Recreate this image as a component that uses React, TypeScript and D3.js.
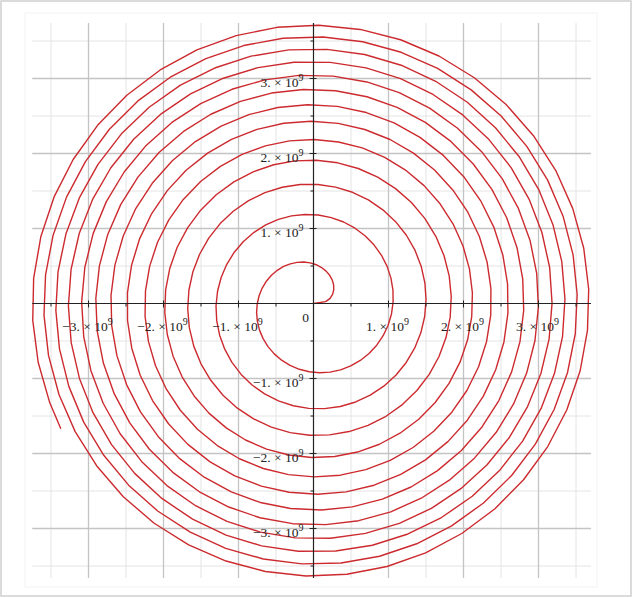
import React from "react";
import * as d3 from "d3";

// Spiral (Fermat spiral r = c * sqrt(theta)), parameters
const spiralCoefficient = 0.423e9; // c
const thetaMax = 79.0; // end angle (rad), ~12.5 turns
const thetaStep = 0.15; // sampling step of the plotted polyline

// Axis ticks (in units of 1e9)
const majorTicks = [-3, -2, -1, 1, 2, 3];
const minorTicks = [-3.5, -2.5, -1.5, -0.5, 0.5, 1.5, 2.5, 3.5];
const xTickLabels = ["\u22123.", "\u22122.", "\u22121.", "1.", "2.", "3."];
const yTickLabels = ["\u22123.", "\u22122.", "\u22121.", "1.", "2.", "3."];

const W = 633;
const H = 598;

export default function App() {
  const x = d3.scaleLinear().domain([-3.75e9, 3.7e9]).range([32.25, 591]);
  const y = d3.scaleLinear().domain([-3.66e9, 3.74e9]).range([578, 23]);

  const thetas = d3.range(0, thetaMax, thetaStep).concat([thetaMax]);
  const pts: [number, number][] = thetas.map((t) => {
    const r = spiralCoefficient * Math.sqrt(t);
    return [r * Math.cos(t), r * Math.sin(t)];
  });
  const line = d3
    .line<[number, number]>()
    .x((d) => x(d[0]))
    .y((d) => y(d[1]));

  const x0 = x(0);
  const y0 = y(0);
  const [xl, xr] = x.range();
  const [yb, yt] = y.range();
  const font = "'Liberation Serif', 'Times New Roman', serif";

  return (
    <svg
      width={W}
      height={H}
      style={{ position: "absolute", left: 0, top: 0, background: "#fff" }}
    >
      <rect x={1} y={1} width={630} height={595} fill="#fff" stroke="#cfcfcf" strokeWidth={1.5} />
      <rect x={25} y={13} width={572} height={574} fill="none" stroke="#f3f3f3" strokeWidth={1} />
      {/* minor grid */}
      {minorTicks.map((v) => (
        <g key={"mg" + v}>
          <line x1={x(v * 1e9)} x2={x(v * 1e9)} y1={yt} y2={yb} stroke="#e4e4e4" strokeWidth={1} />
          <line x1={xl} x2={xr} y1={y(v * 1e9)} y2={y(v * 1e9)} stroke="#e4e4e4" strokeWidth={1} />
        </g>
      ))}
      {/* major grid */}
      {majorTicks.map((v) => (
        <g key={"Mg" + v}>
          <line x1={x(v * 1e9)} x2={x(v * 1e9)} y1={yt} y2={yb} stroke="#c4c4c4" strokeWidth={1.3} />
          <line x1={xl} x2={xr} y1={y(v * 1e9)} y2={y(v * 1e9)} stroke="#c4c4c4" strokeWidth={1.3} />
        </g>
      ))}
      {/* spiral */}
      <path d={line(pts) || ""} fill="none" stroke="#cc2a2e" strokeWidth={1.4} strokeLinejoin="round" />
      {/* axes */}
      <line x1={xl} x2={xr} y1={y0} y2={y0} stroke="#222" strokeWidth={1.2} />
      <line x1={x0} x2={x0} y1={yt} y2={yb} stroke="#222" strokeWidth={1.2} />
      {majorTicks.map((v) => (
        <g key={"t" + v}>
          <line x1={x(v * 1e9)} x2={x(v * 1e9)} y1={y0 - 3} y2={y0 + 4} stroke="#222" strokeWidth={1} />
          <line x1={x0 - 4} x2={x0 + 3} y1={y(v * 1e9)} y2={y(v * 1e9)} stroke="#222" strokeWidth={1} />
        </g>
      ))}
      {minorTicks.map((v) => (
        <g key={"mt" + v}>
          <line x1={x(v * 1e9)} x2={x(v * 1e9)} y1={y0} y2={y0 + 3} stroke="#222" strokeWidth={1} />
          <line x1={x0 - 3} x2={x0} y1={y(v * 1e9)} y2={y(v * 1e9)} stroke="#222" strokeWidth={1} />
        </g>
      ))}
      {/* labels */}
      <g fontFamily={font} fill="#222" fontSize={13.5}>
        {majorTicks.map((v, i) => (
          <text key={"xl" + v} x={x(v * 1e9) - 1} y={y0 + 27} textAnchor="middle">
            {xTickLabels[i] + " \u00d7 10"}
            <tspan fontSize={10} dy={-6}>9</tspan>
          </text>
        ))}
        {majorTicks.map((v, i) => (
          <text key={"yl" + v} x={x0 - 10} y={y(v * 1e9) + 8} textAnchor="end">
            {yTickLabels[i] + " \u00d7 10"}
            <tspan fontSize={10} dy={-6}>9</tspan>
          </text>
        ))}
        <text x={x0 - 8} y={y0 + 18} textAnchor="middle">0</text>
      </g>
    </svg>
  );
}
